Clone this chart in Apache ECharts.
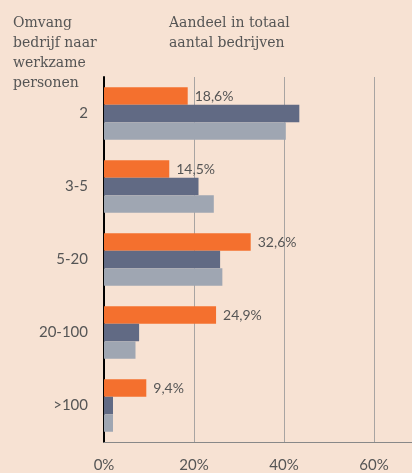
<!DOCTYPE html>
<html>
<head>
<meta charset="utf-8">
<script src="https://cdn.jsdelivr.net/npm/echarts@6/dist/echarts.min.js"></script>
<style>
  html, body { margin: 0; padding: 0; background: #f7e2d3; }
  #chart { width: 412px; height: 473px; }
</style>
</head>
<body>
<div id="chart"></div>
<script>
// categorieën (omvang bedrijf)
const categories = ['2', '3-5', '5-20', '20-100', '>100']
// aandeel in totaal aantal bedrijven (%)
const serieOranje = [18.6, 14.5, 32.6, 24.9, 9.4]
const serieDonker = [43.4, 21.0, 25.8, 7.8, 2.0]
const serieLicht = [40.4, 24.4, 26.3, 7.0, 2.0]
const xTicks = [0, 20, 40, 60]

const labelFont = 'Lato, "Open Sans", sans-serif'
const titleFont = '"DejaVu Serif", serif'
const gridColor = '#a8a4a2'

const chart = echarts.init(document.getElementById('chart'))

const option = {
  backgroundColor: '#f7e2d3',
  animation: false,
  title: [
    {
      text: 'Omvang\nbedrijf naar\nwerkzame\npersonen',
      left: 8,
      top: 8,
      textStyle: { fontFamily: titleFont, fontSize: 14, fontWeight: 'normal', color: '#555', lineHeight: 20 }
    },
    {
      text: 'Aandeel in totaal\naantal bedrijven',
      left: 164,
      top: 8,
      textStyle: { fontFamily: titleFont, fontSize: 14, fontWeight: 'normal', color: '#555', lineHeight: 20 }
    }
  ],
  grid: {
    left: 104,
    right: 0,
    top: 77,
    bottom: 31,
    containLabel: false
  },
  xAxis: {
    type: 'value',
    min: 0,
    max: 68.44,
    interval: 20,
    axisLine: { show: true, lineStyle: { color: '#888', width: 1 } },
    axisTick: { show: false },
    axisLabel: {
      showMaxLabel: false,
      margin: 16,
      color: '#555',
      fontFamily: labelFont,
      fontSize: 15,
      formatter: v => (xTicks.includes(v) ? v + '%' : '')
    },
    splitLine: {
      show: true,
      lineStyle: { color: [gridColor, gridColor, gridColor, gridColor, 'rgba(0,0,0,0)'], width: 1 }
    }
  },
  yAxis: {
    type: 'category',
    inverse: true,
    data: categories,
    axisLine: { show: true, lineStyle: { color: '#000', width: 2 } },
    axisTick: { show: false },
    axisLabel: {
      margin: 16,
      color: '#555',
      fontFamily: labelFont,
      fontSize: 15
    }
  },
  series: [
    {
      name: 'oranje',
      type: 'bar',
      data: serieOranje,
      barWidth: 17.5,
      barGap: '0%',
      itemStyle: { color: '#f4702e' },
      label: {
        show: true,
        position: 'right',
        distance: 7,
        color: '#555',
        fontFamily: labelFont,
        fontSize: 14,
        formatter: p => p.value.toFixed(1).replace('.', ',') + '%'
      }
    },
    {
      name: 'donker',
      type: 'bar',
      data: serieDonker,
      barWidth: 17.5,
      barGap: '0%',
      itemStyle: { color: '#616a84' }
    },
    {
      name: 'licht',
      type: 'bar',
      data: serieLicht,
      barWidth: 17.5,
      barGap: '0%',
      itemStyle: { color: '#9fa6b2' }
    }
  ]
}

chart.setOption(option)
</script>
</body>
</html>
